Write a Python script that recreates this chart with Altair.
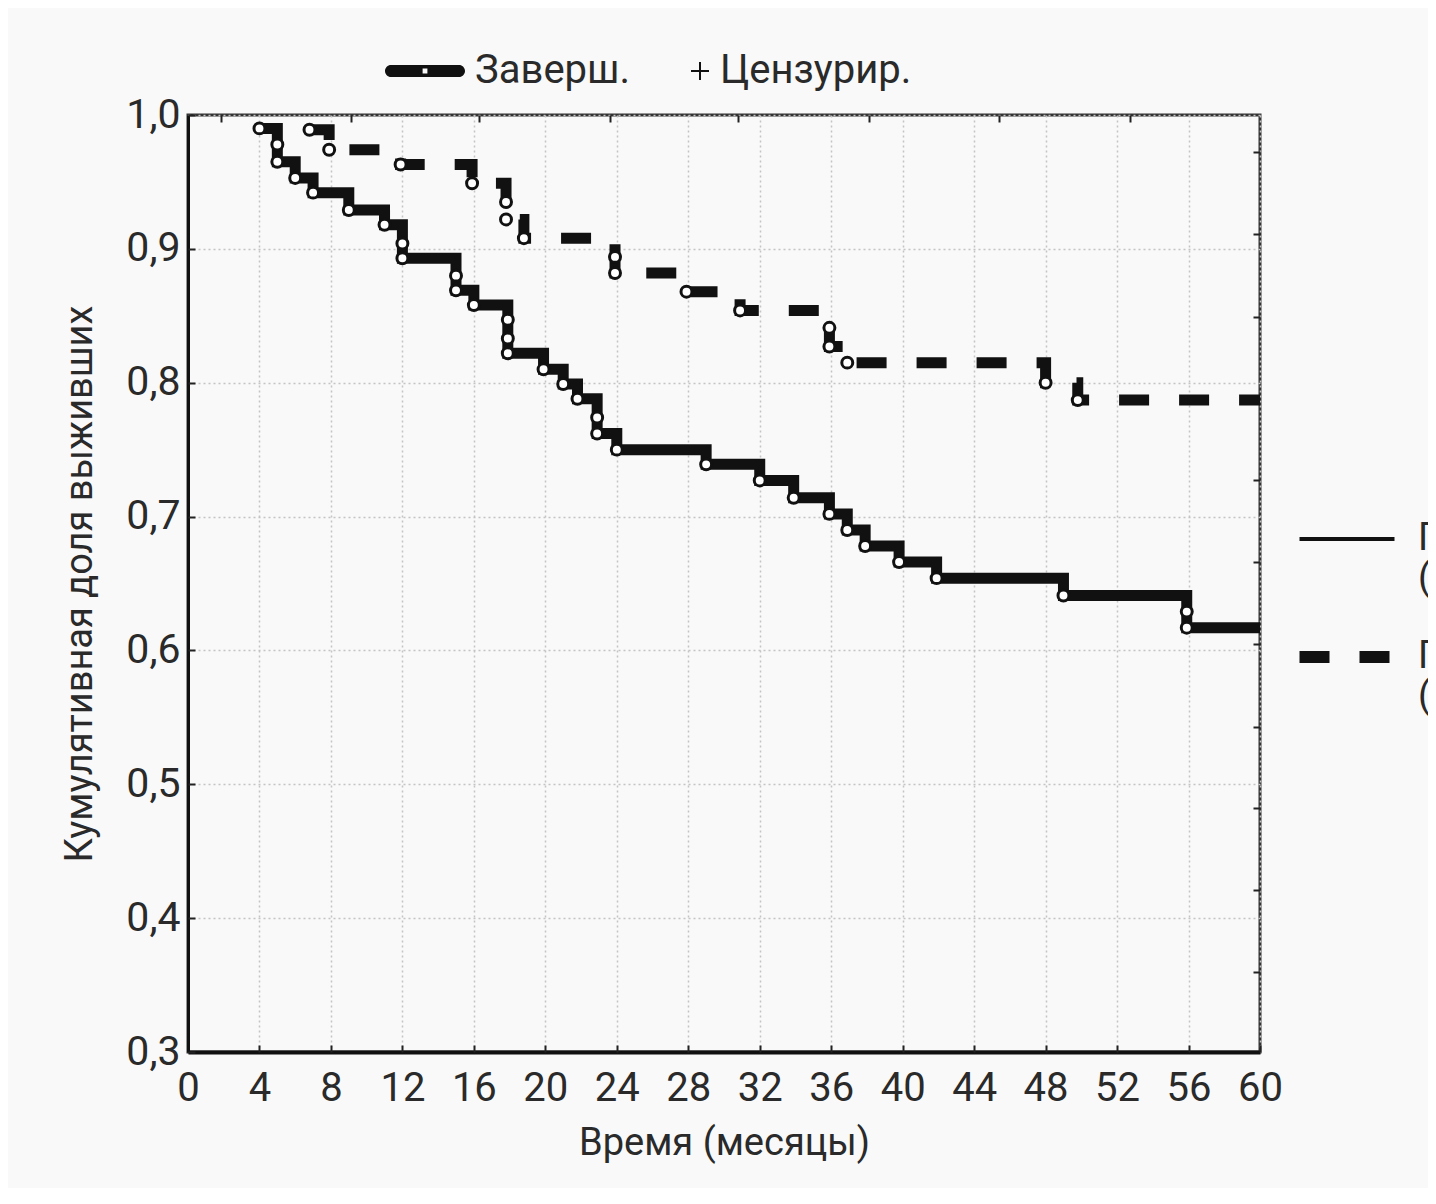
import altair as alt
import pandas as pd

# ---- data ----
groups = ["Группа 1", "Группа 2"]
group_second_line = ["(n = …)", "(n = …)"]

g1_t = [4, 5, 5, 6, 7, 9, 11, 12, 12, 15, 15, 16, 17.9, 17.9, 17.9, 19.9, 21, 21.8,
        22.9, 22.9, 24, 29, 32, 33.9, 35.9, 36.9, 37.9, 39.8, 41.9, 49, 55.9, 55.9]
g1_s = [0.990, 0.978, 0.965, 0.953, 0.942, 0.929, 0.918, 0.904, 0.893, 0.880, 0.869,
        0.858, 0.847, 0.833, 0.822, 0.810, 0.799, 0.788, 0.774, 0.762, 0.750, 0.739,
        0.727, 0.714, 0.702, 0.690, 0.678, 0.666, 0.654, 0.641, 0.629, 0.617]

g2_t = [6.8, 7.9, 11.9, 15.9, 17.8, 17.8, 18.8, 23.9, 23.9, 27.9, 30.9, 35.9, 35.9,
        36.9, 48, 49.8]
g2_s = [0.989, 0.974, 0.963, 0.949, 0.935, 0.922, 0.908, 0.894, 0.882, 0.868, 0.854,
        0.841, 0.827, 0.815, 0.800, 0.787]

t_end = 60

x_ticks = list(range(0, 61, 4))
y_ticks = [0.3, 0.4, 0.5, 0.6, 0.7, 0.8, 0.9, 1.0]
top_ticks = [1.85, 9.1, 16.3, 23.6, 30.8, 38.1, 45.4, 52.7]
right_ticks = [0.972, 0.911, 0.849, 0.788, 0.727, 0.666, 0.605, 0.543, 0.482, 0.421, 0.360]

legend_kinds = ["Заверш.", "Цензурир."]

# ---- tables ----
line_rows, mark_rows = [], []
for g, ts, ss in [(groups[0], g1_t, g1_s), (groups[1], g2_t, g2_s)]:
    for i, (t, s) in enumerate(zip(ts, ss)):
        line_rows.append(dict(group=g, t=t, s=s, i=i))
        mark_rows.append(dict(group=g, t=t, s=s, i=i))
    line_rows.append(dict(group=g, t=t_end, s=ss[-1], i=len(ts)))
lines_df = pd.DataFrame(line_rows)
marks_df = pd.DataFrame(mark_rows)
kinds_df = pd.DataFrame({"kind": legend_kinds})

FONT = "Roboto"
TXT = "#2a2a2a"
xs = alt.Scale(domain=[0, 60], nice=False, zero=False)
ys = alt.Scale(domain=[0.3, 1.0], nice=False, zero=False)

label_expr = ("datum.value == '%s' ? ['%s', '%s'] : ['%s', '%s']"
              % (groups[0], groups[0], group_second_line[0], groups[1], group_second_line[1]))

lines = alt.Chart(lines_df).mark_line(
    interpolate="step-after", strokeWidth=11, color="#111", strokeCap="butt"
).encode(
    x=alt.X("t:Q", scale=xs, axis=alt.Axis(
        orient="bottom", values=x_ticks, format="d", ticks=False, labelPadding=16,
        labelFlush=False, labelOverlap=False,
        labelFont=FONT, labelFontSize=40, labelColor=TXT,
        domain=True, domainColor="#111", domainWidth=4,
        grid=True, gridColor="#c4c4c4", gridDash=[2, 3], gridWidth=1.5,
        title="Время (месяцы)", titleFont=FONT, titleFontSize=38, titleFontWeight="normal",
        titleColor=TXT, titlePadding=16)),
    y=alt.Y("s:Q", scale=ys, axis=alt.Axis(
        orient="left", values=y_ticks, ticks=False, labelPadding=8,
        labelFlush=False, labelOverlap=False,
        labelExpr="replace(format(datum.value, '.1f'), '.', ',')",
        labelFont=FONT, labelFontSize=41, labelColor=TXT,
        domain=True, domainColor="#111", domainWidth=3,
        grid=True, gridColor="#c4c4c4", gridDash=[2, 3], gridWidth=1.5,
        title="Кумулятивная доля выживших", titleFont=FONT, titleFontSize=38,
        titleFontWeight="normal", titleColor=TXT, titlePadding=26)),
    strokeDash=alt.StrokeDash("group:N", scale=alt.Scale(domain=groups, range=[[1, 0], [30, 30]]),
        legend=alt.Legend(orient="none", legendX=1140, legendY=405, title=None,
                          symbolType="stroke", symbolSize=9025, symbolStrokeColor="#111",
                          symbolStrokeWidth={"expr": "datum.value == '%s' ? 4 : 12" % groups[0]},
                          labelExpr=label_expr, labelFont=FONT, labelFontSize=38,
                          labelColor=TXT, labelOffset=52, labelLimit=0, rowPadding=35)),
    order=alt.Order("i:Q"),
)

markers = alt.Chart(marks_df).mark_point(
    shape="circle", filled=True, fill="white", stroke="#111", strokeWidth=3, size=120, opacity=1
).encode(
    x=alt.X("t:Q", scale=xs, axis=None),
    y=alt.Y("s:Q", scale=ys, axis=None),
)

pill = ("M-0.85,-0.15 L0.85,-0.15 A0.15,0.15 0 0 1 0.85,0.15 L-0.85,0.15 "
        "A0.15,0.15 0 0 1 -0.85,-0.15 Z M-0.06,-0.06 L-0.06,0.06 L0.06,0.06 L0.06,-0.06 Z")
plus = ("M0.525,-0.025 L0.975,-0.025 L0.975,0.025 L0.525,0.025 Z "
        "M0.725,-0.225 L0.775,-0.225 L0.775,0.225 L0.725,0.225 Z")

top_legend = alt.Chart(kinds_df).mark_point(filled=True, opacity=0, color="#111").encode(
    shape=alt.Shape("kind:N", scale=alt.Scale(domain=legend_kinds, range=[pill, plus]),
        legend=alt.Legend(orient="none", legendX=197, legendY=-84, direction="horizontal",
                          title=None, symbolSize=6400, symbolFillColor="#111",
                          symbolStrokeWidth=0, symbolOpacity=1, labelFont=FONT,
                          labelFontSize=40, labelColor=TXT, labelOffset=10,
                          columnPadding=0, labelLimit=0)),
)

tick_style = dict(labels=False, domain=False, grid=False, ticks=True, tickSize=7,
                  tickWidth=2, tickColor="#222", title=None, offset=-7)

inner_ticks = alt.Chart(lines_df).mark_point(opacity=0).encode(
    x=alt.X("t:Q", scale=xs, axis=alt.Axis(orient="bottom", values=x_ticks, **tick_style)),
    y=alt.Y("s:Q", scale=ys, axis=alt.Axis(orient="left", values=y_ticks, **tick_style)),
)

far_ticks = alt.Chart(lines_df).mark_point(opacity=0).encode(
    x=alt.X("t:Q", scale=xs, axis=alt.Axis(orient="top", values=top_ticks, **tick_style)),
    y=alt.Y("s:Q", scale=ys, axis=alt.Axis(orient="right", values=right_ticks, **tick_style)),
)

chart = alt.layer(lines, markers, top_legend, inner_ticks, far_ticks).resolve_scale(
    x="independent", y="independent"
).properties(
    width=1072, height=937,
    autosize=alt.AutoSizeParams(type="none"),
    padding={"left": 180, "top": 107, "right": 168, "bottom": 136},
    background="#f9f9f9",
).configure_view(stroke="#333", strokeWidth=3, fill="white")

chart.save("out.html", embed_options={"renderer": "svg", "actions": False})
